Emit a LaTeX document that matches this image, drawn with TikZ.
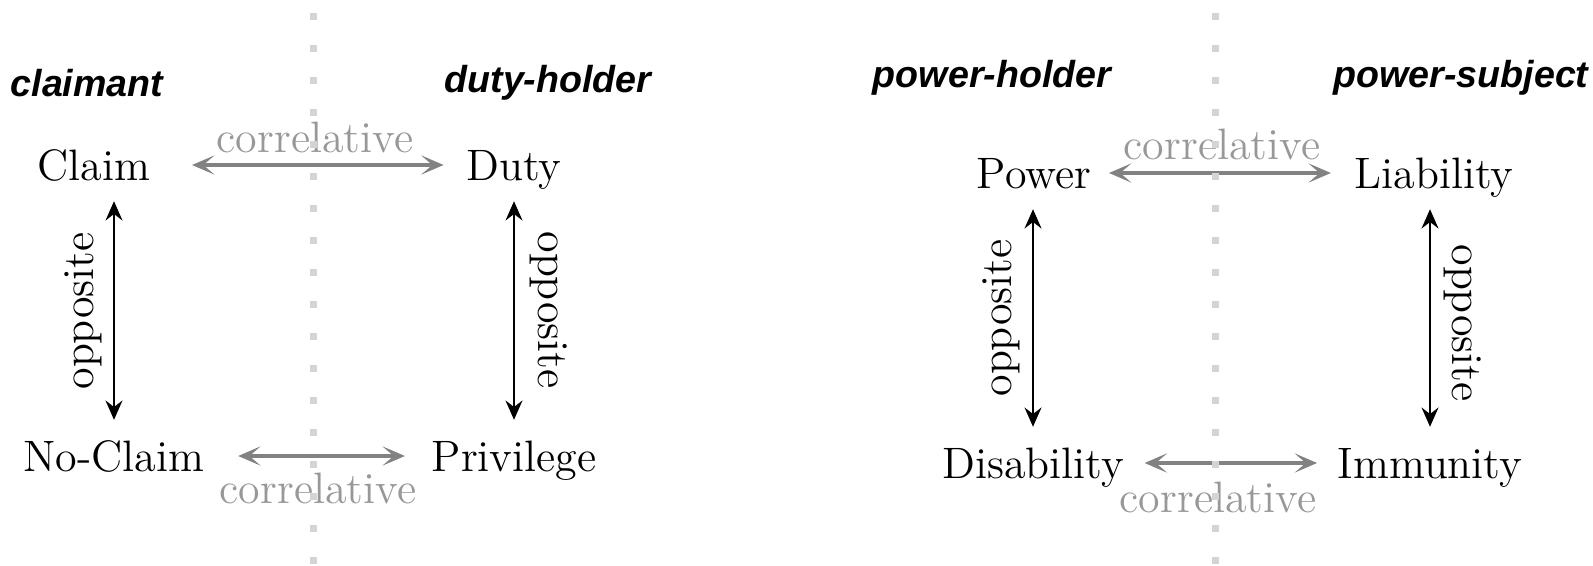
\documentclass[tikz,border=0pt]{standalone}
\usepackage{fontspec}
\newfontfamily\headfont{Liberation Sans}
\usetikzlibrary{arrows.meta}
\definecolor{corrgray}{HTML}{828282}
\definecolor{labelgray}{HTML}{989898}
\definecolor{dotgray}{HTML}{D4D4D4}
\begin{document}
\begin{tikzpicture}[x=0.25pt,y=-0.25pt,
  term/.style={font=\fontsize{11}{13}\selectfont, inner sep=0pt, text height=7.7pt, text depth=0pt},
  role/.style={font=\headfont\bfseries\itshape\fontsize{9.4}{11}\selectfont, inner sep=0pt},
  rel/.style={font=\fontsize{11}{13}\selectfont, inner sep=0pt},
  corr/.style={draw=corrgray, line width=1pt,
    {Stealth[length=5.6pt,width=4.8pt,inset=2.8pt]}-{Stealth[length=5.6pt,width=4.8pt,inset=2.8pt]}},
  opp/.style={draw=black, line width=0.65pt,
    {Stealth[length=4.8pt,width=4.2pt,inset=1.6pt]}-{Stealth[length=4.8pt,width=4.2pt,inset=1.6pt]},
    shorten >=5pt, shorten <=5pt},
]
\useasboundingbox (0,0) rectangle (1593,566);

% ---- claim / duty square ----
\node[role] (claimant) at (87,83) {claimant};
\node[role] (dutyholder) at (548,83) {duty-holder};

\node[term] (claim) at (94,165) {Claim};
\node[term] (duty) at (514,165) {Duty};
\node[term] (noclaim) at (114,456) {No-Claim};
\node[term] (privilege) at (514,456) {Privilege};

\draw[corr, shorten <=10.25pt, shorten >=5.5pt] (claim.east) -- (duty.west);
\draw[corr, shorten <=8.25pt, shorten >=6.5pt] (noclaim.east) -- (privilege.west);
\node[rel, text=labelgray] (corrA) at (315,137) {correlative};
\node[rel, text=labelgray] (corrB) at (318,488) {correlative};

\draw[opp] (noclaim.north |- claim.south) -- (noclaim.north);
\draw[opp] (duty.south) -- (privilege.north);
\node[rel, rotate=90] (oppA) at (83,311) {opposite};
\node[rel, rotate=-90] (oppB) at (549,310) {opposite};

% ---- power / liability square ----
\node[role] (powerholder) at (992,78) {power-holder};
\node[role] (powersubject) at (1461,78) {power-subject};

\node[term] (power) at (1034,173) {Power};
\node[term] (liability) at (1434,173) {Liability};
\node[term] (disability) at (1033,463) {Disability};
\node[term] (immunity) at (1430,463) {Immunity};

\draw[corr, shorten <=4.25pt, shorten >=5.75pt] (power.east) -- (liability.west);
\draw[corr, shorten <=5pt, shorten >=5pt] (disability.east) -- (immunity.west);
\node[rel, text=labelgray] (corrC) at (1222,144) {correlative};
\node[rel, text=labelgray] (corrD) at (1218,497) {correlative};

\draw[opp] (disability.north |- power.south) -- (disability.north);
\draw[opp] (immunity.north |- liability.south) -- (immunity.north);
\node[rel, rotate=90] (oppC) at (1001,318) {opposite};
\node[rel, rotate=-90] (oppD) at (1463,323) {opposite};

% ---- dotted separators between the two parties ----
\foreach \k in {0,...,17} {
  \fill[dotgray] (309.5,{13.2+32*\k}) rectangle ++(7,7);
  \fill[dotgray] (1211.5,{13.2+32*\k}) rectangle ++(7,7);
}
\end{tikzpicture}
\end{document}
